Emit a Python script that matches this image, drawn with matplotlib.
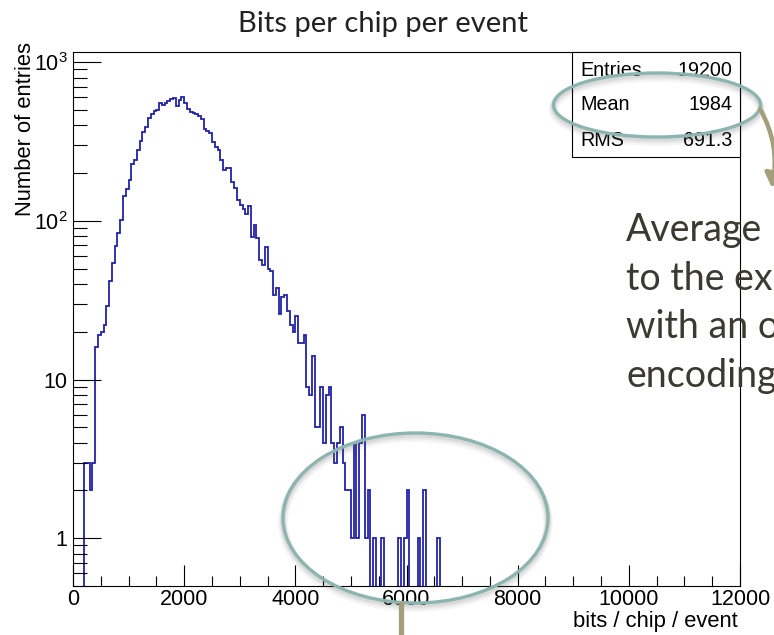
import numpy as np
import matplotlib
matplotlib.use("Agg")
import matplotlib.pyplot as plt
from matplotlib.patches import Ellipse, Rectangle, FancyArrowPatch
from matplotlib.lines import Line2D
from matplotlib.ticker import MultipleLocator, LogLocator, NullFormatter, FixedLocator

# ---------------- data ----------------
x_min, x_max = 0, 12000
bin_width = 50
first_bin_low = 200
counts = [3, 3, 2, 3,
          16, 19, 20, 22, 29, 42, 54, 69, 84, 101,
          143, 160, 181, 227, 241, 280, 317, 365, 393, 443,
          472, 490, 499, 550, 540, 555, 570, 585, 598, 527,
          578, 600, 554, 508, 489, 480, 470, 461, 437, 377,
          367, 357, 315, 293, 280, 242, 209, 216, 216, 177,
          162, 136, 126, 118, 111, 124, 79, 94, 78, 57,
          53, 68, 50, 48, 34, 38, 26, 33, 34, 27,
          22, 20, 25, 17, 17, 19, 9, 8, 14, 5,
          5, 9, 4, 8, 9, 4, 3, 4, 5, 3,
          2, 2, 1, 4, 1, 4, 6, 1, 2, 0,
          1, 0, 0, 1, 0, 0, 0, 0, 0, 1,
          0, 1, 2, 0, 0, 0, 1, 0, 2, 0,
          0, 0, 0, 1]
y_min, y_max = 0.5, 1160
x_tick_values = [0, 2000, 4000, 6000, 8000, 10000, 12000]
y_tick_values = [1, 10, 100, 1000]
y_tick_labels = ["1", "10", r"$10^{2}$", r"$10^{3}$"]
stat_names = ["Entries", "Mean", "RMS"]
stat_values = ["19200", "1984", "691.3"]
title_text = "Bits per chip per event"
x_title = "bits / chip / event"
y_title = "Number of entries"
note_lines = ["Average", "to the ex", "with an o", "encoding"]

# ---------------- style ----------------
W, H = 774, 635
plt.rcParams["font.family"] = ["Liberation Sans", "DejaVu Sans"]
plt.rcParams["mathtext.fontset"] = "custom"
plt.rcParams["mathtext.rm"] = "Liberation Sans"
plt.rcParams["mathtext.it"] = "Liberation Sans"
plt.rcParams["mathtext.default"] = "regular"

hist_color = "#2222a8"
ellipse_color = "#8db5b0"
arrow_color = "#a39e7b"
note_color = "#3b3a30"


def fx(px):
    return px / W


def fy(py):
    return 1 - py / H


fig = plt.figure(figsize=(W / 100, H / 100), dpi=100)
ax = fig.add_axes([fx(73), fy(586), fx(740) - fx(73), fy(52) - fy(586)])

edges = np.arange(x_min, x_max + bin_width, bin_width)
full = np.zeros(len(edges) - 1)
i0 = first_bin_low // bin_width
full[i0:i0 + len(counts)] = counts
plotted = np.where(full > 0, full, 1e-3)
ax.stairs(plotted, edges, baseline=None, color=hist_color, lw=1.3)

ax.set_yscale("log")
ax.set_xlim(x_min, x_max)
ax.set_ylim(y_min, y_max)
ax.xaxis.set_major_locator(FixedLocator(x_tick_values))
ax.xaxis.set_minor_locator(MultipleLocator(500))
ax.set_xticklabels([str(v) for v in x_tick_values])
ax.yaxis.set_major_locator(FixedLocator(y_tick_values))
ax.set_yticklabels(y_tick_labels)
ax.yaxis.set_minor_locator(LogLocator(base=10, subs=np.arange(2, 10)))
ax.yaxis.set_minor_formatter(NullFormatter())

ax.tick_params(axis="x", which="major", direction="in", length=15, width=0.8,
               labelsize=15.5, pad=2, top=False)
ax.tick_params(axis="x", which="minor", direction="in", length=7.5, width=0.8, top=False)
ax.tick_params(axis="y", which="major", direction="in", length=20, width=0.8,
               labelsize=15.5, pad=4, right=False)
ax.tick_params(axis="y", which="minor", direction="in", length=10, width=0.8, right=False)
for s in ax.spines.values():
    s.set_linewidth(0.8)

# axis titles
fig.text(fx(738), fy(611), x_title, ha="right", va="top", fontsize=15.8)
fig.text(fx(26), fy(42), y_title, rotation=90, ha="center", va="top", fontsize=15.8)

# title
fig.text(fx(383.5), fy(32), title_text, ha="center", va="baseline",
         fontsize=21, family=["Lato", "DejaVu Sans"], color="#222222")

# stats box
box = Rectangle((fx(572), fy(157)), fx(740) - fx(572), fy(52) - fy(157),
                transform=fig.transFigure, facecolor="white", edgecolor="black",
                lw=0.8, zorder=5)
fig.add_artist(box)
row_y = [70, 105, 140]
for name, val, ry in zip(stat_names, stat_values, row_y):
    fig.text(fx(580), fy(ry), name, ha="left", va="center", fontsize=14.2, zorder=6)
    fig.text(fx(732), fy(ry), val, ha="right", va="center", fontsize=14.2, zorder=6)


def draw_ellipse(cx, cy, w, h):
    for dy, lw, a in [(4, 7, 0.06), (3, 5, 0.08), (2, 3.5, 0.10)]:
        fig.add_artist(Ellipse((fx(cx), fy(cy + dy)), w / W, h / H,
                               transform=fig.transFigure, fill=False,
                               edgecolor="#555555", lw=lw, alpha=a, zorder=7))
    fig.add_artist(Ellipse((fx(cx), fy(cy)), w / W, h / H,
                           transform=fig.transFigure, fill=False,
                           edgecolor=ellipse_color, lw=2.4, zorder=8))


draw_ellipse(657, 105, 207, 64)
draw_ellipse(415.5, 518, 265, 170)

# arrows
arr = FancyArrowPatch((fx(759), fy(107)), (fx(771), fy(190)),
                      transform=fig.transFigure,
                      connectionstyle="arc3,rad=-0.2",
                      arrowstyle="-|>,head_width=6,head_length=8",
                      color=arrow_color, lw=3.2, zorder=9, mutation_scale=1)
fig.add_artist(arr)
fig.add_artist(Line2D([fx(400.5), fx(400.5)], [fy(604), fy(640)],
                      transform=fig.transFigure, color=arrow_color, lw=3.8, zorder=9))

# annotation text (cut by the slide edge, as in the reference)
for i, line in enumerate(note_lines):
    fig.text(fx(626), fy(241 + 48.7 * i), line, ha="left", va="baseline",
             fontsize=27, family=["Lato", "DejaVu Sans"], color=note_color, zorder=4)

fig.savefig("out.png", dpi=100)
